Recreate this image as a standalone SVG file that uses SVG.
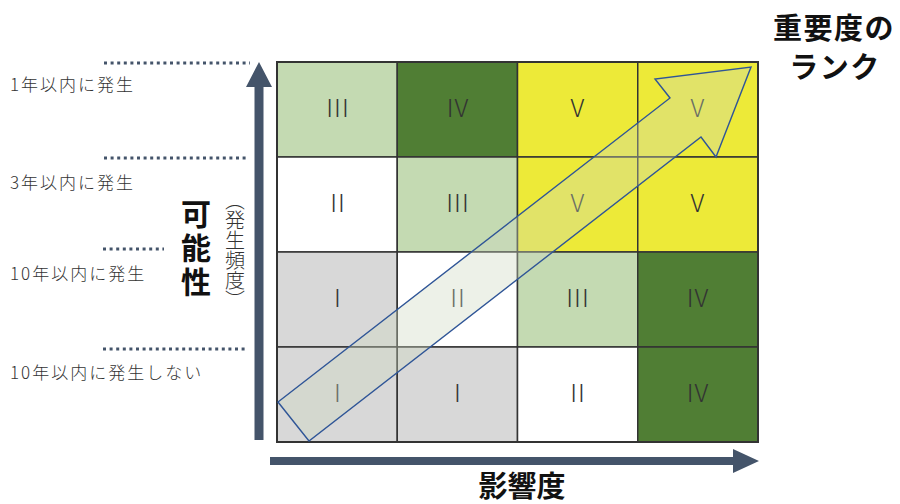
<svg xmlns="http://www.w3.org/2000/svg" width="900" height="504" viewBox="0 0 900 504">
<style>
.lbl{font-family:"Noto Sans CJK JP","Noto Sans",sans-serif;font-size:17px;font-weight:300;fill:#333;letter-spacing:2px}
.num{font-family:"Noto Sans CJK JP",sans-serif;font-size:25px;font-weight:300;fill:#333;text-anchor:middle;letter-spacing:1px}
.ttl{font-family:"Noto Sans CJK JP",sans-serif;font-weight:700;fill:#111;text-anchor:middle}
.dot{stroke:#44546A;stroke-width:3;stroke-dasharray:3 3.6;fill:none}
.cell{stroke:#333;stroke-width:1.5}
.lg{fill:#C4DAB2}.dg{fill:#507E34}.ye{fill:#EDEA38}.gr{fill:#D8D8D8}.wh{fill:#FFFFFF}
</style>
<g id="dotted-guides">
<line class="dot" x1="104" y1="63" x2="250" y2="63"/>
<line class="dot" x1="104" y1="158" x2="248" y2="158"/>
<line class="dot" x1="103" y1="249" x2="164" y2="249"/>
<line class="dot" x1="103" y1="349" x2="248" y2="349"/>
</g>
<g id="row-labels">
<text class="lbl" x="10" y="91">1年以内に発生</text>
<text class="lbl" x="10" y="189">3年以内に発生</text>
<text class="lbl" x="10" y="280">10年以内に発生</text>
<text class="lbl" x="10" y="379">10年以内に発生しない</text>
</g>
<g id="grid">
<rect class="cell lg" x="277" y="62" width="120.25" height="95"/>
<rect class="cell dg" x="397.25" y="62" width="120.25" height="95"/>
<rect class="cell ye" x="517.5" y="62" width="120.25" height="95"/>
<rect class="cell ye" x="637.75" y="62" width="120.25" height="95"/>
<rect class="cell wh" x="277" y="157" width="120.25" height="95"/>
<rect class="cell lg" x="397.25" y="157" width="120.25" height="95"/>
<rect class="cell ye" x="517.5" y="157" width="120.25" height="95"/>
<rect class="cell ye" x="637.75" y="157" width="120.25" height="95"/>
<rect class="cell gr" x="277" y="252" width="120.25" height="95"/>
<rect class="cell wh" x="397.25" y="252" width="120.25" height="95"/>
<rect class="cell lg" x="517.5" y="252" width="120.25" height="95"/>
<rect class="cell dg" x="637.75" y="252" width="120.25" height="95"/>
<rect class="cell gr" x="277" y="347" width="120.25" height="95"/>
<rect class="cell gr" x="397.25" y="347" width="120.25" height="95"/>
<rect class="cell wh" x="517.5" y="347" width="120.25" height="95"/>
<rect class="cell dg" x="637.75" y="347" width="120.25" height="95"/>
<rect x="277" y="62" width="481" height="380" fill="none" stroke="#333" stroke-width="2"/>
</g>
<g id="cell-labels">
<text class="num" x="338" y="117">III</text>
<text class="num" x="458" y="117">IV</text>
<text class="num" x="578" y="117">V</text>
<text class="num" x="698" y="117">V</text>
<text class="num" x="338" y="212">II</text>
<text class="num" x="458" y="212">III</text>
<text class="num" x="578" y="212">V</text>
<text class="num" x="698" y="212">V</text>
<text class="num" x="338" y="307">I</text>
<text class="num" x="458" y="307">II</text>
<text class="num" x="578" y="307">III</text>
<text class="num" x="698" y="307">IV</text>
<text class="num" x="338" y="402">I</text>
<text class="num" x="458" y="402">I</text>
<text class="num" x="578" y="402">II</text>
<text class="num" x="698" y="402">IV</text>
</g>
<g id="connectors">
<polygon id="rank-arrow" points="278,402 670,98 655,79 751,67 716,157 701,137 309,441" fill="#CCD8C0" fill-opacity="0.36" stroke="#2F5597" stroke-width="1.4" stroke-linejoin="miter"/>
<polygon id="y-axis" points="254.5,440 263.5,440 263.5,87 272,87 259,62 246,87 254.5,87" fill="#44546A"/>
<polygon id="x-axis" points="270,457 733,457 733,449 759,461 733,473 733,465 270,465" fill="#44546A"/>
</g>
<g id="titles">
<text class="ttl" x="196" y="250" font-size="30" writing-mode="vertical-rl" letter-spacing="4">可能性</text>
<text x="235" y="250" font-family="Noto Sans CJK JP,sans-serif" font-size="20" font-weight="300" fill="#333" text-anchor="middle" writing-mode="vertical-rl">（発生頻度）</text>
<text class="ttl" x="522" y="497" font-size="29">影響度</text>
<text class="ttl" x="834" y="39" font-size="29" letter-spacing="1.5">重要度の</text>
<text class="ttl" x="835" y="78" font-size="29" letter-spacing="1.5">ランク</text>
</g>
</svg>
